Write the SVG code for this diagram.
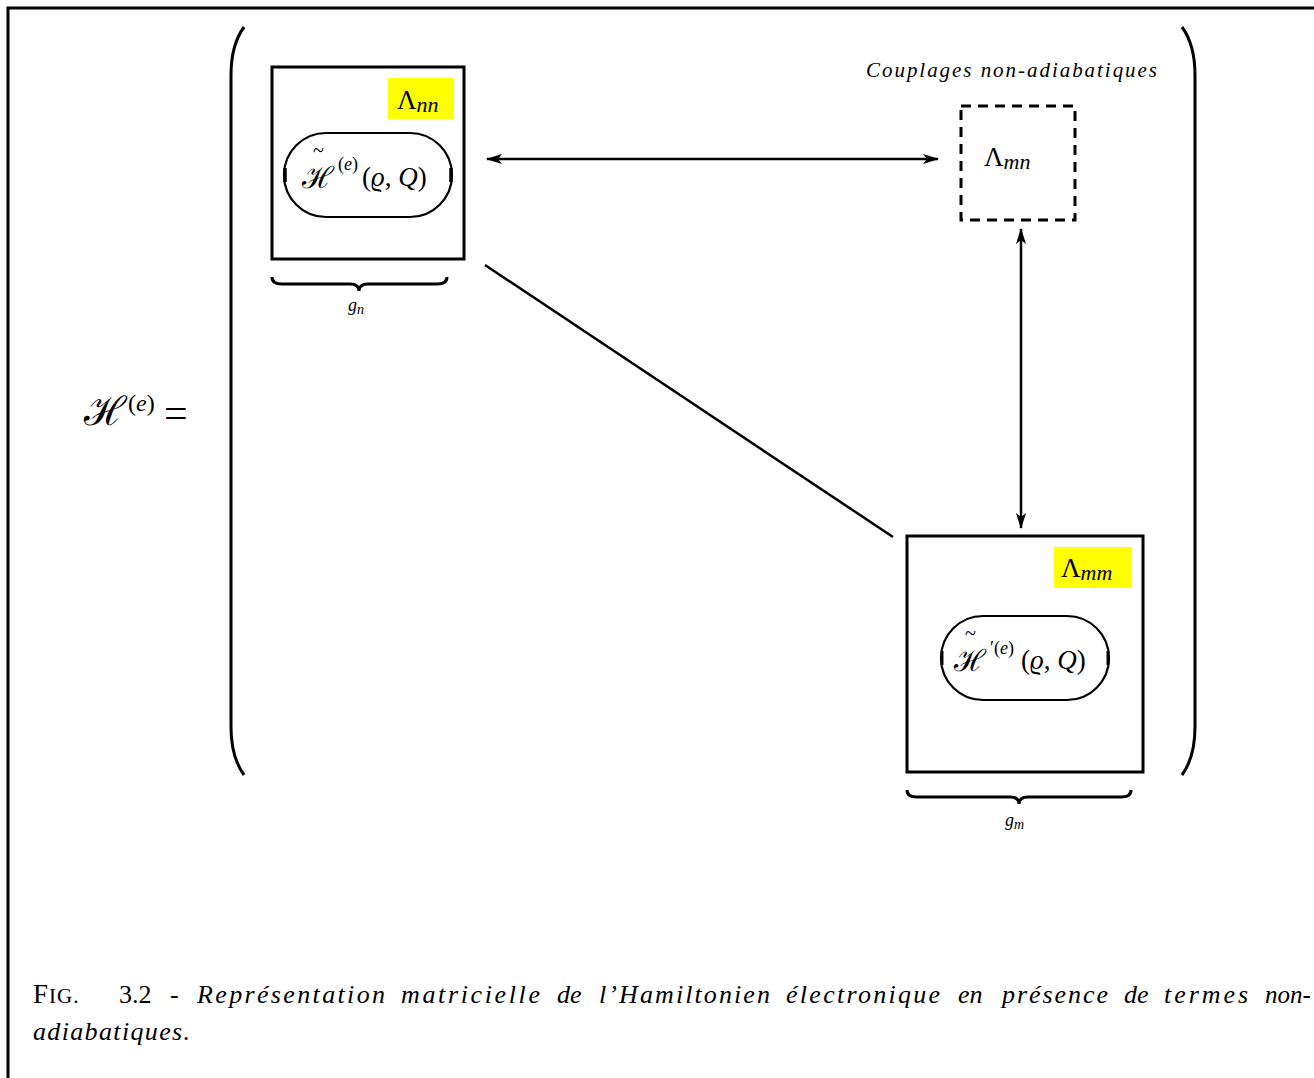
<svg xmlns="http://www.w3.org/2000/svg" width="1314" height="1078" viewBox="0 0 1314 1078">
<style>
.m{font-family:"Liberation Serif","DejaVu Serif",serif;fill:#000}
.i{font-style:italic}
.box{fill:none;stroke:#000;stroke-width:3}
.pill{fill:none;stroke:#000;stroke-width:2.2}
.ln{fill:none;stroke:#000;stroke-width:2.5}
.br{fill:none;stroke:#000;stroke-width:3}
.hl{fill:#ffff00}
</style>
<defs>
<marker id="ah" viewBox="0 0 16 10" refX="15" refY="5" markerWidth="16" markerHeight="10" markerUnits="userSpaceOnUse" orient="auto-start-reverse">
<path d="M0,0 L16,5 L0,10 L4,5 Z" fill="#000"/>
</marker>
</defs>
<rect width="1314" height="1078" fill="#fff"/>
<!-- frame -->
<path d="M8,1078 V8 H1314" fill="none" stroke="#000" stroke-width="3"/>
<!-- matrix parentheses -->
<path d="M244,27 Q231,45 231,75 V727 Q231,757 244,775" fill="none" stroke="#000" stroke-width="3"/>
<path d="M1182,27 Q1195,45 1195,75 V727 Q1195,757 1182,775" fill="none" stroke="#000" stroke-width="3"/>
<!-- H^(e) = -->
<g id="lhs">
<text class="m" x="84" y="425" font-size="40">ℋ</text>
<text class="m" x="128" y="411" font-size="24">(<tspan class="i">e</tspan>)</text>
<text class="m" x="164" y="427" font-size="42">=</text>
</g>
<!-- connectors -->
<g id="connectors">
<line class="ln" x1="487" y1="159" x2="938" y2="159" marker-start="url(#ah)" marker-end="url(#ah)"/>
<line class="ln" x1="1021" y1="229" x2="1021" y2="528" marker-start="url(#ah)" marker-end="url(#ah)"/>
<line class="ln" x1="485" y1="265" x2="893" y2="537"/>
</g>
<!-- block nn -->
<g id="block-nn">
<rect class="box" x="272" y="67" width="192" height="192"/>
<rect class="hl" x="388" y="78" width="66" height="41"/>
<text class="m" x="397" y="109" font-size="27">Λ<tspan class="i" font-size="22" dy="3">nn</tspan></text>
<rect class="pill" x="284" y="133" width="168" height="84" rx="42" ry="42"/>
<line x1="285" y1="168" x2="285" y2="182" stroke="#000" stroke-width="3.5"/>
<line x1="451" y1="168" x2="451" y2="182" stroke="#000" stroke-width="3.5"/>
<text class="m" x="313" y="157" font-size="20">~</text>
<text class="m" x="302" y="188" font-size="30">ℋ</text>
<text class="m" x="338" y="170" font-size="18">(<tspan class="i">e</tspan>)</text>
<text class="m" x="362" y="186" font-size="27">(<tspan class="i">ϱ</tspan>, <tspan class="i">Q</tspan>)</text>
</g>
<!-- g_n brace -->
<g id="brace-n">
<path class="br" d="M272,277 Q272,284 282,284 H350 Q359,284 359,291 Q359,284 368,284 H437 Q447,284 447,277"/>
<text class="m i" x="348" y="311" font-size="18">g<tspan font-size="14" dy="3">n</tspan></text>
</g>
<!-- coupling mn -->
<g id="coupling-mn">
<text class="m i" x="866" y="77" font-size="21" textLength="291" lengthAdjust="spacing">Couplages non-adiabatiques</text>
<rect x="961" y="106" width="114" height="114" fill="none" stroke="#000" stroke-width="3" stroke-dasharray="10,7"/>
<text class="m" x="984" y="166" font-size="27">Λ<tspan class="i" font-size="22" dy="3">mn</tspan></text>
</g>
<!-- block mm -->
<g id="block-mm">
<rect class="box" x="907" y="536" width="236" height="236"/>
<rect class="hl" x="1054" y="547" width="78" height="41"/>
<text class="m" x="1061" y="577" font-size="27">Λ<tspan class="i" font-size="22" dy="3">mm</tspan></text>
<rect class="pill" x="941" y="616" width="168" height="84" rx="42" ry="42"/>
<line x1="942" y1="651" x2="942" y2="665" stroke="#000" stroke-width="3"/>
<line x1="1108" y1="651" x2="1108" y2="665" stroke="#000" stroke-width="3"/>
<text class="m" x="965" y="640" font-size="20">~</text>
<text class="m" x="954" y="671" font-size="30">ℋ</text>
<text class="m" x="990" y="654" font-size="18">′(<tspan class="i">e</tspan>)</text>
<text class="m" x="1021" y="669" font-size="27">(<tspan class="i">ϱ</tspan>, <tspan class="i">Q</tspan>)</text>
</g>
<!-- g_m brace -->
<g id="brace-m">
<path class="br" d="M907,790 Q907,797 917,797 H1010 Q1019,797 1019,804 Q1019,797 1028,797 H1121 Q1131,797 1131,790"/>
<text class="m i" x="1005" y="826" font-size="18">g<tspan font-size="14" dy="3">m</tspan></text>
</g>
<!-- caption -->
<g id="caption">
<text class="m" y="1003" font-size="26"><tspan x="33" font-size="27" letter-spacing="1">F<tspan font-size="21">IG.</tspan></tspan><tspan x="119">3.2</tspan><tspan x="170">-</tspan><tspan class="i" x="197" textLength="188" lengthAdjust="spacing">Représentation</tspan><tspan class="i" x="401" textLength="139" lengthAdjust="spacing">matricielle</tspan><tspan class="i" x="557">de</tspan><tspan class="i" x="599" textLength="171" lengthAdjust="spacing">l’Hamiltonien</tspan><tspan class="i" x="786" textLength="154" lengthAdjust="spacing">électronique</tspan><tspan class="i" x="958">en</tspan><tspan class="i" x="1002" textLength="106" lengthAdjust="spacing">présence</tspan><tspan class="i" x="1124">de</tspan><tspan class="i" x="1164" textLength="84" lengthAdjust="spacing">termes</tspan><tspan class="i" x="1265" font-size="25">non-</tspan></text>
<text class="m i" x="33" y="1040" font-size="26" textLength="157" lengthAdjust="spacing">adiabatiques.</text>
</g>
</svg>
